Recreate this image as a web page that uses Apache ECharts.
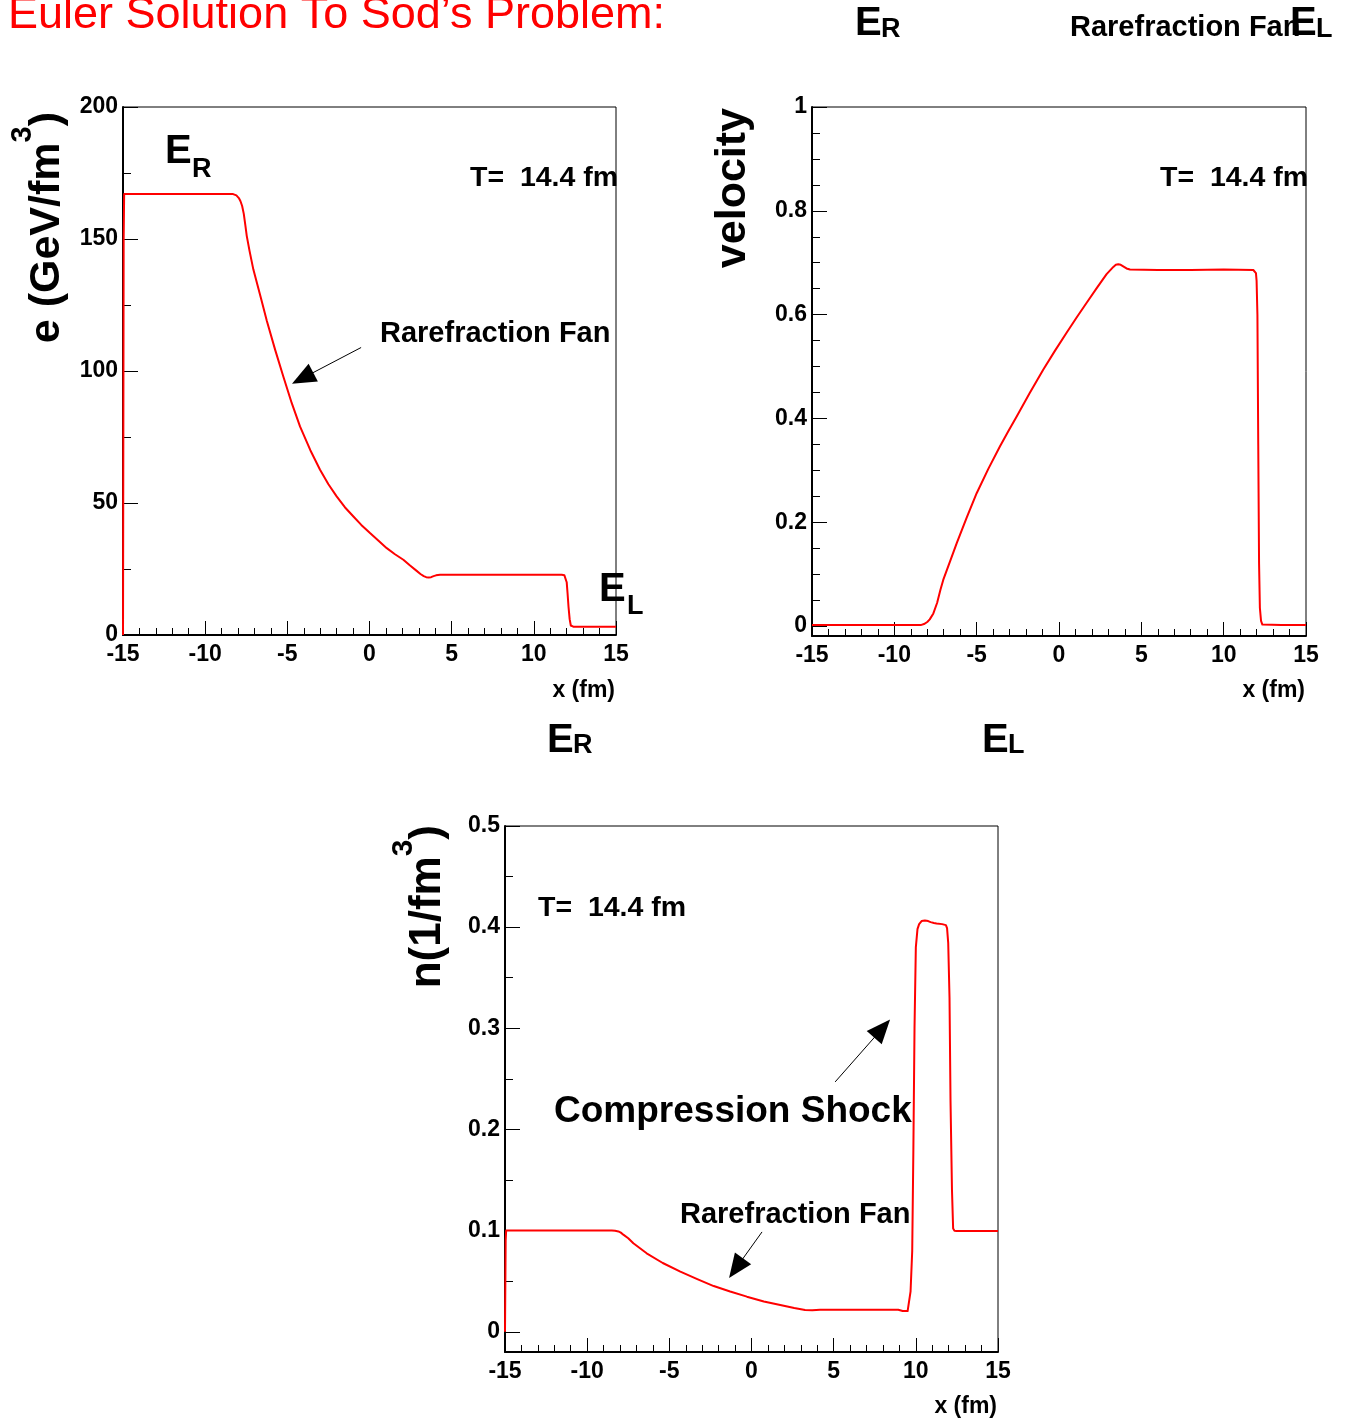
<!DOCTYPE html>
<html>
<head>
<meta charset="utf-8">
<title>Euler Solution To Sod's Problem</title>
<script src="https://cdn.jsdelivr.net/npm/echarts@6/dist/echarts.min.js"></script>
<style>
  html, body { margin: 0; padding: 0; background: #fff; }
  #chart { width: 1345px; height: 1422px; }
</style>
</head>
<body>
<div id="chart"></div>
<script>
// ---- shared x range (fm) ----
const xTicks = [-15, -10, -5, 0, 5, 10, 15];

// ---- energy density e (GeV/fm^3) ----
const eRange = [0, 200];
const eTicks = [0, 50, 100, 150, 200];
const eX = [-15, -14.96, -14.93, -12, -10, -8.6, -8.3, -8.1, -7.95, -7.85, -7.75, -7.65, -7.55, -7.47, -7.3, -7.07, -6.6, -6.25, -5.74, -5.24, -4.73, -4.23, -3.6, -3.01, -2.5, -2.0, -1.5, -0.98, -0.5, 0.03, 0.55, 1.05, 1.55, 2.06, 2.45, 2.87, 3.1, 3.3, 3.45, 3.6, 3.75, 3.9, 4.05, 4.29, 6, 8, 10, 11.7, 11.86, 11.95, 12.0, 12.05, 12.11, 12.18, 12.25, 12.32, 12.4, 13.5, 15];
const eY = [0, 150, 167, 167, 167, 167, 167, 166.5, 165.5, 164.3, 162.5, 159.5, 155, 151.2, 145.5, 138.5, 127.5, 119, 108, 97.8, 87.8, 79, 70, 62.6, 57.1, 52.5, 48.4, 44.9, 41.7, 38.6, 35.7, 32.9, 30.6, 28.5, 26.4, 24.3, 23.1, 22.3, 21.9, 21.8, 21.9, 22.3, 22.6, 22.8, 22.8, 22.8, 22.8, 22.8, 22.6, 22.0, 20, 16, 10.7, 6, 3.6, 3.2, 3.15, 3.15, 3.15];

// ---- velocity ----
const vRange = [-0.019, 1];
const vTicks = [0, 0.2, 0.4, 0.6, 0.8, 1];
const vX = [-15, -10, -8.4, -8.2, -8.0, -7.85, -7.63, -7.4, -7.2, -7.03, -6.6, -6.21, -5.6, -5.0, -4.3, -3.59, -3.08, -2.57, -1.77, -0.96, -0.25, 0.46, 1.07, 1.68, 2.28, 2.89, 3.3, 3.45, 3.6, 3.75, 3.95, 4.1, 4.31, 6, 8, 10, 11.8, 11.9, 11.96, 12.0, 12.05, 12.1, 12.15, 12.2, 12.27, 12.35, 12.4, 13.5, 15];
const vY = [0.002, 0.002, 0.002, 0.004, 0.008, 0.013, 0.0245, 0.045, 0.07, 0.089, 0.1262, 0.16, 0.2095, 0.256, 0.3025, 0.346, 0.3755, 0.404, 0.4495, 0.494, 0.5302, 0.565, 0.5945, 0.623, 0.6506, 0.678, 0.692, 0.696, 0.697, 0.696, 0.692, 0.689, 0.687, 0.686, 0.686, 0.687, 0.686, 0.684, 0.68, 0.665, 0.6, 0.35, 0.12, 0.035, 0.01, 0.003, 0.002, 0.002, 0.002];

// ---- number density n (1/fm^3) ----
const nRange = [-0.02, 0.5];
const nTicks = [0, 0.1, 0.2, 0.3, 0.4, 0.5];
const nX = [-15, -14.96, -14.93, -12, -10, -8.5, -8.3, -8.1, -7.95, -7.8, -7.5, -7.19, -6.38, -5.4, -4.33, -3.3, -2.3, -1.3, -0.28, 0.75, 1.75, 2.6, 3.26, 3.7, 4.17, 6, 8, 8.93, 9.2, 9.5, 9.6, 9.68, 9.78, 9.85, 9.92, 10.0, 10.1, 10.2, 10.35, 10.55, 10.75, 10.9, 11.1, 11.26, 11.6, 11.83, 11.9, 11.97, 12.05, 12.11, 12.2, 12.27, 12.35, 12.48, 13.5, 15];
const nY = [0, 0.09, 0.1, 0.1, 0.1, 0.1, 0.0998, 0.0992, 0.098, 0.096, 0.0925, 0.0875, 0.0776, 0.068, 0.0594, 0.052, 0.0452, 0.0398, 0.0347, 0.03, 0.0264, 0.0235, 0.0215, 0.0212, 0.0218, 0.0218, 0.0218, 0.0218, 0.0205, 0.0205, 0.022, 0.04, 0.08, 0.18, 0.3, 0.38, 0.398, 0.403, 0.406, 0.4066, 0.406, 0.405, 0.4042, 0.4037, 0.403, 0.402, 0.399, 0.3845, 0.33, 0.229, 0.14, 0.102, 0.0999, 0.0997, 0.0997, 0.0997];

// ---- arrow annotations (data coordinates: start, head) ----
const eArrow = [[-0.51, 108.9], [-4.07, 97.3]];
const nShockArrow = [[5.09, 0.247], [7.95, 0.2997]];
const nFanArrow = [[0.64, 0.0987], [-0.94, 0.0629]];

const FONT = "'Liberation Sans', Helvetica, Arial, sans-serif";
const zip = (xs, ys) => xs.map((x, i) => [x, ys[i]]);
const fmt = v => String(Math.round(v * 1000) / 1000);

// subdivide the major tick spacing for the minor ticks
function minorValues(ticks, parts) {
  const out = [];
  for (let i = 0; i < ticks.length - 1; i++) {
    const step = (ticks[i + 1] - ticks[i]) / parts;
    for (let k = 1; k < parts; k++) out.push(ticks[i] + k * step);
  }
  return out;
}

function xAxisFor(gridIndex) {
  return {
    gridIndex, type: 'value',
    min: xTicks[0], max: xTicks[xTicks.length - 1], interval: xTicks[1] - xTicks[0],
    axisLine: { show: true, onZero: false, lineStyle: { color: '#000', width: 2 } },
    axisTick: { show: true, inside: true, length: 14, lineStyle: { color: '#000', width: 1 } },
    minorTick: { show: true, splitNumber: 5, length: 7, lineStyle: { color: '#000', width: 1 } },
    axisLabel: { color: '#000', fontFamily: FONT, fontWeight: 'bold', fontSize: 23, margin: 8, formatter: fmt },
    splitLine: { show: false }, minorSplitLine: { show: false }
  };
}
// labelled y axis with major ticks
function yAxisMajor(gridIndex, range, ticks) {
  return {
    gridIndex, type: 'value', position: 'left', min: range[0], max: range[1],
    axisLine: { show: true, onZero: false, lineStyle: { color: '#000', width: 2 } },
    axisTick: { show: true, inside: true, length: 15, customValues: ticks, lineStyle: { color: '#000', width: 1 } },
    axisLabel: { show: true, customValues: ticks, color: '#000', fontFamily: FONT, fontWeight: 'bold', fontSize: 23, margin: 5, formatter: fmt },
    splitLine: { show: false }
  };
}
// companion y axis carrying only the short minor ticks
function yAxisMinor(gridIndex, range, ticks, parts) {
  const mv = minorValues(ticks, parts);
  return {
    gridIndex, type: 'value', position: 'left', min: range[0], max: range[1],
    axisLine: { show: false, onZero: false },
    axisTick: { show: true, inside: true, length: 8, customValues: mv, lineStyle: { color: '#000', width: 1 } },
    axisLabel: { show: false, customValues: mv },
    splitLine: { show: false }
  };
}
function arrow(seg) {
  return {
    silent: true, animation: false,
    symbol: ['none', 'triangle'], symbolSize: [20, 24],
    lineStyle: { color: '#000', width: 1, type: 'solid' },
    label: { show: false }, emphasis: { disabled: true },
    data: seg.map(s => [{ coord: s[0] }, { coord: s[1] }])
  };
}
function curve(i, xs, ys, arrows) {
  return {
    type: 'line', xAxisIndex: i, yAxisIndex: 2 * i, data: zip(xs, ys),
    showSymbol: false, animation: false, silent: true, smooth: false,
    lineStyle: { color: '#ff0000', width: 2, join: 'round' },
    markLine: arrows ? arrow(arrows) : undefined
  };
}

// text helper for annotations
function txt(x, y, s, size, align) {
  return {
    type: 'text', x, y, silent: true,
    style: { text: s, fill: '#000', fontFamily: FONT, fontWeight: 'bold', fontSize: size,
             align: align || 'left', verticalAlign: 'middle' }
  };
}
function ytitle(x, y, main, sup, size) {
  const rich = {
    m: { fontFamily: FONT, fontWeight: 'bold', fontSize: size, lineHeight: Math.round(size * 1.8), fill: '#000' },
    s: { fontFamily: FONT, fontWeight: 'bold', fontSize: Math.round(size * 0.68), verticalAlign: 'top', fill: '#000' }
  };
  const text = sup ? '{m|' + main + '}{s|' + sup + '}{m|)}' : '{m|' + main + '}';
  return { type: 'text', x, y, rotation: Math.PI / 2, silent: true,
           style: { text, rich, align: 'right', verticalAlign: 'middle' } };
}

const graphics = [
  // page title
  { type: 'text', x: 8, y: 16, silent: true,
    style: { text: 'Euler Solution To Sod\u2019s Problem:', fill: '#ff0000', fontFamily: FONT,
             fontSize: 45, align: 'left', verticalAlign: 'middle' } },
  // labels along the top
  txt(855, 24, 'E', 40), txt(881, 30, 'R', 27),
  txt(1070, 28, 'Rarefraction Fan', 29),
  txt(1290, 24, 'E', 40), txt(1316, 30, 'L', 27),
  // labels between the rows
  txt(547, 741, 'E', 40), txt(573, 746, 'R', 27),
  txt(982, 741, 'E', 40), txt(1008, 746, 'L', 27),

  // energy panel
  ytitle(47, 112, 'e (GeV/fm', '3', 43),
  txt(165, 152, 'E', 40), txt(192, 170, 'R', 27),
  txt(599, 590, 'E', 40), txt(627, 607, 'L', 27),
  txt(470, 178, 'T=  14.4 fm', 28.5),
  txt(380, 334, 'Rarefraction Fan', 29),
  txt(615, 691, 'x (fm)', 23, 'right'),

  // velocity panel
  ytitle(733, 108, 'velocity', null, 43),
  txt(1160, 178, 'T=  14.4 fm', 28.5),
  txt(1305, 691, 'x (fm)', 23, 'right'),

  // density panel
  ytitle(428, 825, 'n(1/fm', '3', 44),
  txt(538, 908, 'T=  14.4 fm', 28.5),
  txt(554, 1112, 'Compression Shock', 37),
  txt(680, 1215, 'Rarefraction Fan', 29),
  txt(997, 1407, 'x (fm)', 23, 'right')
];

const chart = echarts.init(document.getElementById('chart'), null, { renderer: 'canvas' });
chart.setOption({
  animation: false,
  backgroundColor: '#fff',
  grid: [
    { left: 123, top: 107, width: 493, height: 528, show: true, borderColor: '#000', borderWidth: 1, backgroundColor: 'transparent' },
    { left: 812, top: 107, width: 494, height: 529, show: true, borderColor: '#000', borderWidth: 1, backgroundColor: 'transparent' },
    { left: 505, top: 826, width: 493, height: 526, show: true, borderColor: '#000', borderWidth: 1, backgroundColor: 'transparent' }
  ],
  xAxis: [xAxisFor(0), xAxisFor(1), xAxisFor(2)],
  yAxis: [
    yAxisMajor(0, eRange, eTicks), yAxisMinor(0, eRange, eTicks, 2),
    yAxisMajor(1, vRange, vTicks), yAxisMinor(1, vRange, vTicks, 4),
    yAxisMajor(2, nRange, nTicks), yAxisMinor(2, nRange, nTicks, 2)
  ],
  series: [
    curve(0, eX, eY, [eArrow]),
    curve(1, vX, vY, null),
    curve(2, nX, nY, [nShockArrow, nFanArrow])
  ],
  graphic: { elements: graphics }
});
</script>
</body>
</html>
